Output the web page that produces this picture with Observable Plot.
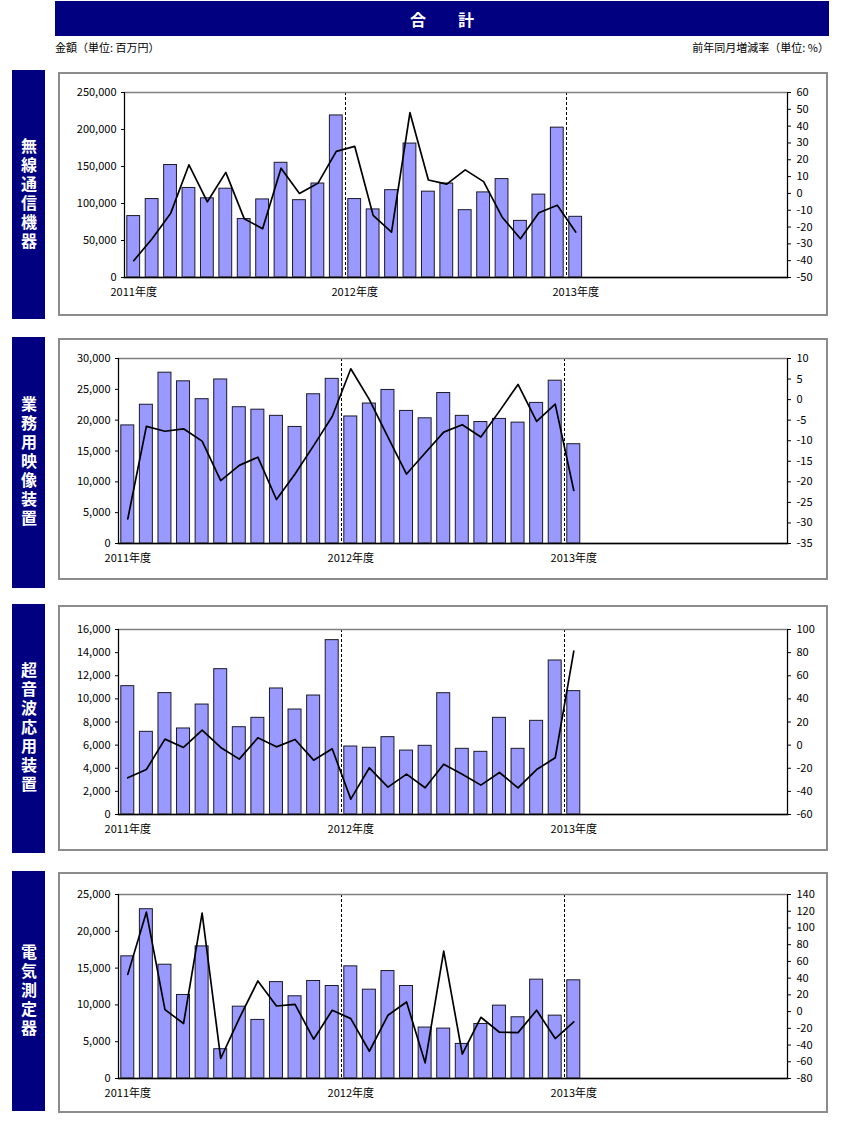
<!DOCTYPE html>
<html><head><meta charset="utf-8">
<script src="https://cdn.jsdelivr.net/npm/d3@7"></script>
<script src="https://cdn.jsdelivr.net/npm/@observablehq/plot@0.6"></script>
<style>
body{margin:0;background:#fff;font-family:'Noto Sans CJK JP',sans-serif;}
#page{position:relative;width:847px;height:1131px;overflow:hidden;}
.hdr{position:absolute;left:55px;top:1px;width:774px;height:35px;background:#000080;color:#fff;font-weight:bold;font-size:16px;display:flex;align-items:center;justify-content:center;}
.sub{position:absolute;top:40px;font-size:11px;line-height:14px;color:#000;}
.side{position:absolute;left:12px;width:33px;background:#000080;color:#fff;font-weight:bold;font-size:16px;line-height:33px;writing-mode:vertical-rl;text-orientation:upright;display:flex;align-items:center;justify-content:center;letter-spacing:3px;}
.box{position:absolute;left:58px;width:770px;box-sizing:border-box;border:2px solid #8c8c8c;}
.plot{position:absolute;left:58px;}
</style></head>
<body><div id="page"></div>
<script>
// ---- categories ----
const months = ["2011/04","2011/05","2011/06","2011/07","2011/08","2011/09","2011/10","2011/11","2011/12","2012/01","2012/02","2012/03",
                "2012/04","2012/05","2012/06","2012/07","2012/08","2012/09","2012/10","2012/11","2012/12","2013/01","2013/02","2013/03",
                "2013/04"];
const fiscalYearLabels = ["2011年度","2012年度","2013年度"];
const slotCount = 36;
const panelNames = ["無線通信機器","業務用映像装置","超音波応用装置","電気測定器"];

// ---- series: amount (百万円) and YoY change (%) ----
const radioAmount = [83000,106000,152000,121000,107000,120000,79000,105500,155000,104500,127000,219000,
                     106000,92000,118000,181000,116000,127000,91000,115000,133000,76500,112000,202500,82000];
const radioChange = [-40,-27,-12,17,-5,12.5,-15,-21,15,0,6,25,28,-13,-23,48,8,5.5,14,7,-14,-27,-11.5,-7,-23];

const videoAmount = [19150,22500,27700,26300,23400,26600,22100,21700,20700,18900,24200,26700,
                     20600,22700,24900,21500,20300,24400,20700,19700,20200,19600,22800,26400,16100];
const videoChange = [-29,-6.5,-7.7,-7.1,-10.1,-19.7,-16,-14,-24.3,-18.1,-11.2,-4.1,7.5,0,-9.1,-18.1,-13,-7.9,-6.1,-9.1,-2.8,3.7,-5.3,-1.1,-22.1];

const ultraAmount = [11100,7150,10500,7440,9510,12570,7550,8360,10900,9080,10290,15080,
                     5880,5770,6690,5530,5940,10490,5680,5420,8360,5680,8100,13320,10670];
const ultraChange = [-28.3,-21.1,5.2,-2,12.9,-2,-12.1,6.3,-1.5,4.9,-13,-3.2,-46.7,-19.6,-36.3,-25.1,-36.9,-16.5,-25.1,-34.6,-23.7,-36.9,-21.1,-11,81.3];

const meterAmount = [16600,23000,15460,11350,17950,3980,9760,7960,13100,11170,13250,12570,
                     15240,12070,14600,12570,6920,6780,4700,7410,9900,8320,13430,8540,13340];
const meterChange = [44.5,118.9,2.4,-14.3,117.7,-56.1,-8,36.6,6.7,8.7,-33,1.6,-8.4,-47.4,-4.4,11.5,-61.3,72.4,-50.9,-6.8,-24.7,-25.1,1.6,-32.2,-12.3];

// ---- tick labels ----
const radioLeftTicks = [0,50000,100000,150000,200000,250000];
const radioRightTicks = [-50,-40,-30,-20,-10,0,10,20,30,40,50,60];
const videoLeftTicks = [0,5000,10000,15000,20000,25000,30000];
const videoRightTicks = [-35,-30,-25,-20,-15,-10,-5,0,5,10];
const ultraLeftTicks = [0,2000,4000,6000,8000,10000,12000,14000,16000];
const ultraRightTicks = [-60,-40,-20,0,20,40,60,80,100];
const meterLeftTicks = [0,5000,10000,15000,20000,25000];
const meterRightTicks = [-80,-60,-40,-20,0,20,40,60,80,100,120,140];

const FONT = "'Noto Sans CJK JP', sans-serif";
const yearStart = months.map((m,i)=> m.endsWith("/04") ? i : -1).filter(i => i >= 0);

const page = document.getElementById("page");
function div(cls, css, text){ const d=document.createElement("div"); d.className=cls; Object.assign(d.style, css); if(text!=null) d.textContent=text; page.appendChild(d); return d; }

div("hdr", {}, "合　　計");
div("sub", {left:"55px"}, "金額（単位: 百万円）");
div("sub", {right:"18px"}, "前年同月増減率（単位: %）");

const layouts = [
  {amount: radioAmount, change: radioChange, lt: radioLeftTicks, rt: radioRightTicks, sideTop:70, sideBot:319, boxTop:72, boxBot:316, ml:66, plotTop:92, plotBot:277},
  {amount: videoAmount, change: videoChange, lt: videoLeftTicks, rt: videoRightTicks, sideTop:337, sideBot:588, boxTop:338, boxBot:580, ml:60, plotTop:358, plotBot:543},
  {amount: ultraAmount, change: ultraChange, lt: ultraLeftTicks, rt: ultraRightTicks, sideTop:604, sideBot:853, boxTop:605, boxBot:851, ml:60, plotTop:629, plotBot:814},
  {amount: meterAmount, change: meterChange, lt: meterLeftTicks, rt: meterRightTicks, sideTop:871, sideBot:1111, boxTop:872, boxBot:1113, ml:60, plotTop:894, plotBot:1078}
];

layouts.forEach((L, k) => {
  div("side", {top: L.sideTop+"px", height: (L.sideBot-L.sideTop)+"px"}, panelNames[k]);
  div("box", {top: L.boxTop+"px", height: (L.boxBot-L.boxTop)+"px"});
  const h = L.boxBot - L.boxTop;
  const common = {
    width: 770, height: h, marginLeft: L.ml, marginRight: 41,
    marginTop: L.plotTop - L.boxTop, marginBottom: L.boxBot - L.plotBot,
    style: {fontSize: "11px", fontFamily: FONT, background: "transparent", overflow: "visible", color: "#000"},
    x: {type: "linear", domain: [0, slotCount], axis: null}
  };
  const barData = months.map((m,i) => ({i, v: L.amount[i]}));
  const lineData = months.map((m,i) => ({i, v: L.change[i]}));
  const bars = Plot.plot({
    ...common,
    y: {domain: [L.lt[0], L.lt[L.lt.length-1]], axis: null},
    marks: [
      Plot.rectY(barData, {x: "i", interval: 1, y: "v", fill: "#9999ff", stroke: "#1a1a2a", strokeWidth: 1, insetLeft: 2.8, insetRight: 2.8}),
      Plot.ruleX(yearStart.filter(i => i > 0), {stroke: "#000", strokeDasharray: "3,2"}),
      Plot.frame({stroke: "#808080", strokeWidth: 1.5}),
      Plot.frame({anchor: "left", stroke: "#000"}),
      Plot.frame({anchor: "bottom", stroke: "#000", strokeWidth: 1.5}),
      Plot.frame({anchor: "right", stroke: "#000"}),
      Plot.axisY({ticks: L.lt, tickFormat: d3.format(","), tickSize: 3, tickPadding: 5, label: null}),
      Plot.axisX({ticks: yearStart.map(i => i + 0.5), tickFormat: d => fiscalYearLabels[yearStart.indexOf(d - 0.5)], tickSize: 0, tickPadding: 11, label: null})
    ]
  });
  bars.classList.add("plot"); bars.style.top = L.boxTop + "px"; bars.style.left = "58px"; bars.style.position = "absolute";
  page.appendChild(bars);
  const line = Plot.plot({
    ...common,
    y: {domain: [L.rt[0], L.rt[L.rt.length-1]], axis: null},
    marks: [
      Plot.line(lineData, {x: d => d.i + 0.5, y: "v", stroke: "#000", strokeWidth: 1.7}),
      Plot.axisY({anchor: "right", ticks: L.rt, tickFormat: d => String(d), tickSize: 3, tickPadding: 6, label: null})
    ]
  });
  line.classList.add("plot"); line.style.top = L.boxTop + "px"; line.style.left = "58px"; line.style.position = "absolute";
  page.appendChild(line);
});
</script></body></html>
